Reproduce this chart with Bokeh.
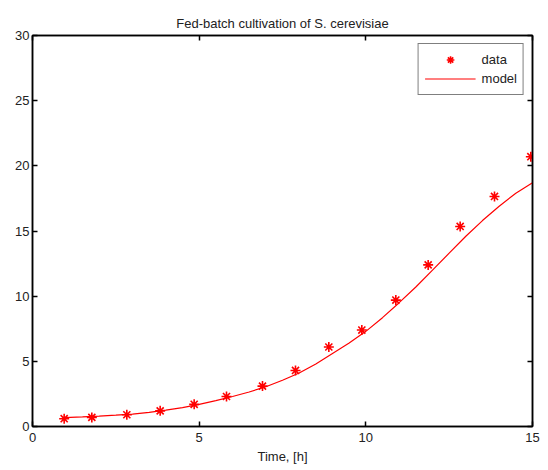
from bokeh.plotting import figure
from bokeh.models import LinearAxis, FixedTicker, Legend, LegendItem, Range1d, CustomJSTickFormatter
from bokeh.embed import file_html
from bokeh.resources import INLINE

# measured data
t_data = [0.95, 1.78, 2.83, 3.83, 4.85, 5.82, 6.9, 7.89, 8.89, 9.88, 10.9, 11.87, 12.83, 13.86, 14.95]
x_data = [0.6, 0.7, 0.9, 1.2, 1.7, 2.3, 3.1, 4.3, 6.1, 7.4, 9.7, 12.4, 15.35, 17.65, 20.7]

# model curve
t_model = [0.95, 1.5, 2.0, 2.5, 3.0, 3.5, 4.0, 4.5, 5.0, 5.5, 6.0, 6.5, 7.0, 7.5, 8.0, 8.5,
           9.0, 9.5, 10.0, 10.5, 11.0, 11.5, 12.0, 12.5, 13.0, 13.5, 14.0, 14.5, 15.0]
x_model = [0.68, 0.74, 0.8, 0.87, 0.95, 1.08, 1.25, 1.45, 1.7, 1.98, 2.3, 2.65, 3.05, 3.55, 4.1, 4.8,
           5.6, 6.4, 7.3, 8.35, 9.5, 10.7, 12.0, 13.3, 14.6, 15.8, 16.9, 17.9, 18.7]

x_ticks = [0, 5, 10, 15]
y_ticks = [0, 5, 10, 15, 20, 25, 30]

FONT = "Liberation Sans"
TXT = "#222222"

p = figure(width=540, height=466, output_backend="svg", toolbar_location=None,
           x_range=Range1d(0, 15), y_range=Range1d(0, 30),
           title="Fed-batch cultivation of S. cerevisiae",
           min_border_left=32, min_border_right=8, min_border_top=35, min_border_bottom=40)
p.title.align = "center"
p.title.text_font = FONT
p.title.text_font_size = "13px"
p.title.text_font_style = "normal"
p.title.text_color = TXT
p.xgrid.visible = False
p.ygrid.visible = False
p.outline_line_color = "black"
p.outline_line_width = 1.5

for ax in (p.xaxis[0], p.yaxis[0]):
    ax.major_tick_in = 5
    ax.major_tick_out = 0
    ax.minor_tick_in = 0
    ax.minor_tick_out = 0
    ax.axis_line_width = 1.5
    ax.major_tick_line_width = 1.5
    ax.major_label_text_font = FONT
    ax.major_label_text_font_size = "13px"
    ax.major_label_text_color = TXT
p.xaxis[0].ticker = FixedTicker(ticks=x_ticks)
p.yaxis[0].ticker = FixedTicker(ticks=y_ticks)
p.xaxis[0].axis_label = "Time, [h]"
p.xaxis[0].axis_label_text_font = FONT
p.xaxis[0].axis_label_text_font_size = "13px"
p.xaxis[0].axis_label_text_font_style = "normal"
p.xaxis[0].axis_label_text_color = TXT
p.xaxis[0].axis_label_standoff = 4
p.xaxis[0].major_label_standoff = 6
p.yaxis[0].major_label_standoff = 3

top = LinearAxis(ticker=FixedTicker(ticks=x_ticks), formatter=CustomJSTickFormatter(code="return ''"),
                 major_tick_in=5, major_tick_out=0, minor_tick_in=0, minor_tick_out=0,
                 axis_line_width=1.5, major_tick_line_width=1.5, major_label_standoff=0)
right = LinearAxis(ticker=FixedTicker(ticks=y_ticks), formatter=CustomJSTickFormatter(code="return ''"),
                   major_tick_in=5, major_tick_out=0, minor_tick_in=0, minor_tick_out=0,
                   axis_line_width=1.5, major_tick_line_width=1.5, major_label_standoff=0)
p.add_layout(top, "above")
p.add_layout(right, "right")

r_line = p.line(t_model, x_model, line_color="red", line_width=1.2)
r_pts = p.scatter(t_data, x_data, marker="asterisk", size=10, line_color="red", line_width=1.6)

legend = Legend(items=[LegendItem(label="data", renderers=[r_pts]),
                       LegendItem(label="model", renderers=[r_line])],
                location="top_right")
legend.label_text_font = FONT
legend.label_text_font_size = "13px"
legend.label_text_color = TXT
legend.border_line_color = "black"
legend.border_line_width = 1.2
legend.glyph_width = 51
legend.spacing = 0
legend.padding = 6
legend.margin = 8
legend.label_standoff = 6
legend.label_height = 19
legend.glyph_height = 19
p.add_layout(legend, "center")

open("out.html", "w").write(file_html(p, INLINE))
